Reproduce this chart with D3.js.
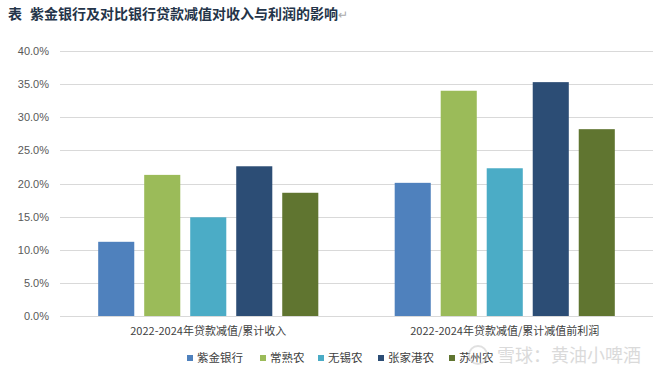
<!DOCTYPE html>
<html><head><meta charset="utf-8">
<script src="https://cdn.jsdelivr.net/npm/d3@7"></script>
<style>
html,body{margin:0;padding:0;background:#fff;}
svg{display:block;}
text{font-family:"Liberation Sans","Noto Sans CJK SC",sans-serif;}
</style></head><body>
<svg id="c" width="662" height="375"></svg>
<script>
const categories = ["2022-2024年贷款减值/累计收入", "2022-2024年贷款减值/累计减值前利润"];
const seriesNames = ["紫金银行", "常熟农", "无锡农", "张家港农", "苏州农"];
const zijin = [11.2, 20.1];
const changshu = [21.3, 34.0];
const wuxi = [14.9, 22.3];
const zhangjiagang = [22.6, 35.3];
const suzhou = [18.6, 28.2];
const seriesValues = [zijin, changshu, wuxi, zhangjiagang, suzhou];
const yTicks = [0, 5, 10, 15, 20, 25, 30, 35, 40];
const colors = ["#4f81bd", "#9bbb59", "#4bacc6", "#2c4d75", "#607530"];
const title = "紫金银行及对比银行贷款减值对收入与利润的影响";

const svg = d3.select("#c");
const m = {left: 60, right: 653, top: 51, bottom: 316};

const y = d3.scaleLinear().domain([0, 40]).range([m.bottom, m.top]);
const x0 = d3.scaleBand().domain(categories).range([m.left, m.right]).padding(0);
const x1 = d3.scaleBand().domain(seriesNames).range([0, x0.bandwidth()])
  .paddingInner(0.216).paddingOuter(0.83);

// title
const t = svg.append("text").attr("x", 8).attr("y", 19)
  .style("font-family", '"Noto Sans CJK SC",sans-serif')
  .style("font-size", "14px").style("font-weight", "bold").attr("fill", "#243449");
t.append("tspan").text("表");
t.append("tspan").attr("x", 30).text(title);
t.append("tspan").attr("fill", "#aaa").style("font-weight", "normal").style("font-size", "12px").text("↵");

// gridlines
svg.append("g").selectAll("line").data(yTicks).join("line")
  .attr("x1", m.left).attr("x2", m.right)
  .attr("y1", d => Math.round(y(d)) + 0.5).attr("y2", d => Math.round(y(d)) + 0.5)
  .attr("stroke", "#d9d9d9").attr("stroke-width", 1);

// y axis labels
const yAxis = d3.axisLeft(y).tickValues(yTicks).tickSize(0).tickPadding(0)
  .tickFormat(d => d3.format(".1f")(d) + "%");
const ya = svg.append("g").attr("transform", `translate(${m.left - 11},0)`).call(yAxis);
ya.select(".domain").remove();
ya.selectAll("text").style("font-size", "11px").attr("fill", "#595959")
  .style("font-family", '"Liberation Sans",sans-serif');

// bars
const groups = svg.append("g").selectAll("g").data(categories).join("g")
  .attr("transform", d => `translate(${x0(d)},0)`);
groups.selectAll("rect").data((c, ci) => seriesNames.map((s, si) => ({s, si, v: seriesValues[si][ci]})))
  .join("rect")
  .attr("x", d => x1(d.s)).attr("width", x1.bandwidth())
  .attr("y", d => y(d.v)).attr("height", d => y(0) - y(d.v))
  .attr("fill", d => colors[d.si]);

// x axis
const xAxis = d3.axisBottom(x0).tickSize(0).tickPadding(0);
const xa = svg.append("g").attr("transform", `translate(0,${m.bottom + 11})`).call(xAxis);
xa.select(".domain").remove();
xa.selectAll("text").style("font-size", "11px").attr("fill", "#404040")
  .style("font-family", '"Noto Sans CJK SC",sans-serif').attr("dy", "0.71em");

// legend
const legX = [187, 260, 318, 378, 449];
const lg = svg.append("g").selectAll("g").data(seriesNames).join("g")
  .attr("transform", (d, i) => `translate(${legX[i]},358)`);
lg.append("rect").attr("x", 0).attr("y", -3).attr("width", 6).attr("height", 6)
  .attr("fill", (d, i) => colors[i]);
lg.append("text").attr("x", 10).attr("y", 0).attr("dy", "0.35em")
  .style("font-size", "11.5px").style("font-family", '"Noto Sans CJK SC",sans-serif')
  .attr("fill", "#404040").text(d => d);

// watermark
const wm = svg.append("g").attr("opacity", 0.55);
wm.append("circle").attr("cx", 478).attr("cy", 355).attr("r", 9).attr("fill", "none")
  .attr("stroke", "#c8c8c8").attr("stroke-width", 2);
wm.append("text").attr("x", 497).attr("y", 362).style("font-size", "18px")
  .style("font-family", '"Noto Sans CJK SC",sans-serif').attr("fill", "#bdbdbd")
  .text("雪球：黄油小啤酒");
</script>
</body></html>
